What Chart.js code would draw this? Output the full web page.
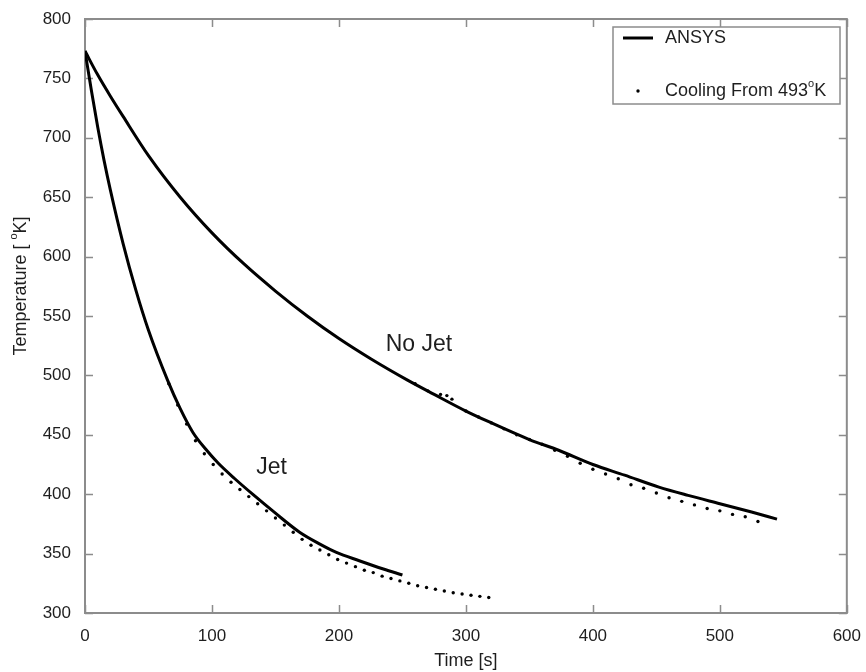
<!DOCTYPE html>
<html>
<head>
<meta charset="utf-8">
<script src="https://cdn.jsdelivr.net/npm/chart.js@4.4.0/dist/chart.umd.min.js"></script>
<style>
    html, body { margin: 0; padding: 0; background: #fff; }
    #wrap { width: 866px; height: 672px; }
</style>
</head>
<body>
<div id="wrap"><canvas id="mainChart" width="866" height="672"></canvas></div>
<script>
// --- Data ---
const xTicks = [0, 100, 200, 300, 400, 500, 600];
const yTicks = [300, 350, 400, 450, 500, 550, 600, 650, 700, 750, 800];

// ANSYS, no jet (solid)
const noJetTime = [0, 10, 20, 30, 50, 75, 100, 125, 150, 175, 200, 225, 254, 275, 300, 318, 350, 373, 400, 425, 452, 475, 500, 525, 545];
const noJetTemp = [773, 753, 735, 718, 685, 650, 620, 594, 571, 550, 531, 514, 496, 484, 470, 461, 446, 437, 425, 416, 406, 399, 392, 385, 379];

// ANSYS, jet (solid)
const jetTime = [0, 5, 10, 15, 20, 30, 40, 50, 65, 75, 85, 95, 105, 118, 132, 150, 169, 185, 198, 216, 235, 250];
const jetTemp = [773, 740, 709, 681, 656, 611, 572, 538, 496, 472, 452, 438, 426, 413, 400, 384, 368, 358, 351, 344, 337, 332];

// Cooling from 493 K, jet (dots)
const jetCoolTime = [66, 73, 80, 87, 94, 101, 108, 115, 122, 129, 136, 143, 150, 157, 164, 171, 178, 185, 192, 199,
    206, 213, 220, 227, 234, 241, 248, 255, 262, 269, 276, 283, 290, 297, 304, 311, 318];
const jetCoolTemp = [493, 475, 459, 445, 434, 425, 417, 410, 404, 398, 392, 386, 380, 374, 368, 362, 357, 353, 349, 345,
    342, 339, 336, 334, 331, 329, 327, 325, 323, 321.5, 320, 318.5, 317, 316, 315, 314, 313];

// Cooling from 493 K, no jet (dots)
const noJetCoolTime = [260, 270, 280, 285, 289, 300, 310, 320, 330, 340, 350, 360, 370, 380, 390, 400, 410, 420, 430, 440,
    450, 460, 470, 480, 490, 500, 510, 520, 530];
const noJetCoolTemp = [493, 487, 484, 483, 480, 470, 465, 460, 455, 450, 446, 442, 437, 432, 426, 421, 417, 413, 408, 405,
    401, 397, 394, 391, 388, 386, 383, 381, 377];

const legendLabels = ['ANSYS', 'Cooling From 493°K'];
const curveNames = ['No Jet', 'Jet'];
const curveNameTime = [263, 147];
const curveNameTemp = [526, 422];

// --- Helpers ---
const FONT = '"Liberation Sans", Arial, sans-serif';
const TEXT = '#1e1e1e';
const FRAME = '#8c8c8c';

function toPoints(xs, ys) {
    return xs.map((x, i) => ({ x, y: ys[i] }));
}

// draws text where '°' is shown as a small raised "o"
function supText(ctx, text, x, y, size) {
    const parts = text.split('°');
    let cx = x;
    parts.forEach((p, i) => {
        ctx.font = `${size}px ${FONT}`;
        ctx.fillText(p, cx, y);
        cx += ctx.measureText(p).width;
        if (i < parts.length - 1) {
            ctx.font = `${Math.round(size * 0.62)}px ${FONT}`;
            ctx.fillText('o', cx, y - size * 0.38);
            cx += ctx.measureText('o').width;
        }
    });
    return cx - x;
}

function supWidth(ctx, text, size) {
    const parts = text.split('°');
    let w = 0;
    parts.forEach((p, i) => {
        ctx.font = `${size}px ${FONT}`;
        w += ctx.measureText(p).width;
        if (i < parts.length - 1) {
            ctx.font = `${Math.round(size * 0.62)}px ${FONT}`;
            w += ctx.measureText('o').width;
        }
    });
    return w;
}

// --- Frame, inward ticks, legend and text ---
const decorations = {
    id: 'decorations',
    beforeDatasetsDraw(chart) {
        const { ctx, chartArea: a, scales: { x, y } } = chart;
        ctx.save();
        ctx.strokeStyle = FRAME;
        ctx.lineWidth = 2;
        ctx.strokeRect(a.left, a.top, a.right - a.left, a.bottom - a.top);
        ctx.lineWidth = 1.5;
        ctx.beginPath();
        xTicks.forEach(v => {
            const px = Math.round(x.getPixelForValue(v)) + 0.5;
            ctx.moveTo(px, a.bottom); ctx.lineTo(px, a.bottom - 8);
            ctx.moveTo(px, a.top); ctx.lineTo(px, a.top + 8);
        });
        yTicks.forEach(v => {
            const py = Math.round(y.getPixelForValue(v)) + 0.5;
            ctx.moveTo(a.left, py); ctx.lineTo(a.left + 8, py);
            ctx.moveTo(a.right, py); ctx.lineTo(a.right - 8, py);
        });
        ctx.stroke();
        ctx.restore();
    },
    afterDraw(chart) {
        const { ctx, scales: { x, y } } = chart;
        ctx.save();
        ctx.fillStyle = TEXT;
        ctx.textBaseline = 'middle';

        // y axis title
        const yTitle = 'Temperature [ °K]';
        ctx.save();
        ctx.translate(21, 286);
        ctx.rotate(-Math.PI / 2);
        supText(ctx, yTitle, -supWidth(ctx, yTitle, 18) / 2, 0, 18);
        ctx.restore();

        // curve names
        ctx.font = `23px ${FONT}`;
        ctx.textAlign = 'center';
        curveNames.forEach((name, i) => {
            ctx.fillText(name, x.getPixelForValue(curveNameTime[i]), y.getPixelForValue(curveNameTemp[i]));
        });
        ctx.textAlign = 'left';

        // legend
        const box = { left: 613, top: 27, right: 840, bottom: 104 };
        ctx.fillStyle = '#fff';
        ctx.fillRect(box.left, box.top, box.right - box.left, box.bottom - box.top);
        ctx.strokeStyle = FRAME;
        ctx.lineWidth = 1.5;
        ctx.strokeRect(box.left, box.top, box.right - box.left, box.bottom - box.top);

        ctx.strokeStyle = '#000';
        ctx.lineWidth = 3;
        ctx.beginPath();
        ctx.moveTo(623, 38); ctx.lineTo(653, 38);
        ctx.stroke();
        ctx.fillStyle = '#000';
        ctx.beginPath();
        ctx.arc(638, 91, 1.7, 0, Math.PI * 2);
        ctx.fill();

        ctx.fillStyle = TEXT;
        supText(ctx, legendLabels[0], 665, 38, 18);
        supText(ctx, legendLabels[1], 665, 91, 18);
        ctx.restore();
    }
};

// --- Chart ---
const tickFont = { family: FONT, size: 17 };
const titleFont = { family: FONT, size: 18 };

const ctx = document.getElementById('mainChart').getContext('2d');
new Chart(ctx, {
    type: 'line',
    data: {
        datasets: [
            {
                label: 'ANSYS No Jet',
                data: toPoints(noJetTime, noJetTemp),
                borderColor: '#000',
                borderWidth: 3,
                pointRadius: 0,
                cubicInterpolationMode: 'monotone',
                fill: false
            },
            {
                label: 'ANSYS Jet',
                data: toPoints(jetTime, jetTemp),
                borderColor: '#000',
                borderWidth: 3,
                pointRadius: 0,
                cubicInterpolationMode: 'monotone',
                fill: false
            },
            {
                label: 'Cooling No Jet',
                data: toPoints(noJetCoolTime, noJetCoolTemp),
                showLine: false,
                pointRadius: 1.7,
                pointBorderWidth: 0,
                pointBackgroundColor: '#000'
            },
            {
                label: 'Cooling Jet',
                data: toPoints(jetCoolTime, jetCoolTemp),
                showLine: false,
                pointRadius: 1.7,
                pointBorderWidth: 0,
                pointBackgroundColor: '#000'
            }
        ]
    },
    options: {
        responsive: false,
        animation: false,
        devicePixelRatio: 1,
        layout: { padding: { left: 0, right: 17, top: 19, bottom: 0 } },
        plugins: { legend: { display: false }, tooltip: { enabled: false } },
        scales: {
            x: {
                type: 'linear',
                min: 0,
                max: 600,
                afterBuildTicks: s => { s.ticks = xTicks.map(v => ({ value: v })); },
                afterFit: s => { s.height = 59; },
                grid: { display: false },
                border: { display: false },
                ticks: { padding: 5, maxRotation: 0, autoSkip: false, color: TEXT, font: tickFont },
                title: { display: true, text: 'Time [s]', padding: { top: 0, bottom: 0 }, color: TEXT, font: titleFont }
            },
            y: {
                type: 'linear',
                min: 300,
                max: 800,
                afterBuildTicks: s => { s.ticks = yTicks.map(v => ({ value: v })); },
                afterFit: s => { s.width = 85; },
                grid: { display: false },
                border: { display: false },
                ticks: { padding: 6, autoSkip: false, color: TEXT, font: tickFont }
            }
        }
    },
    plugins: [decorations]
});
</script>
</body>
</html>
